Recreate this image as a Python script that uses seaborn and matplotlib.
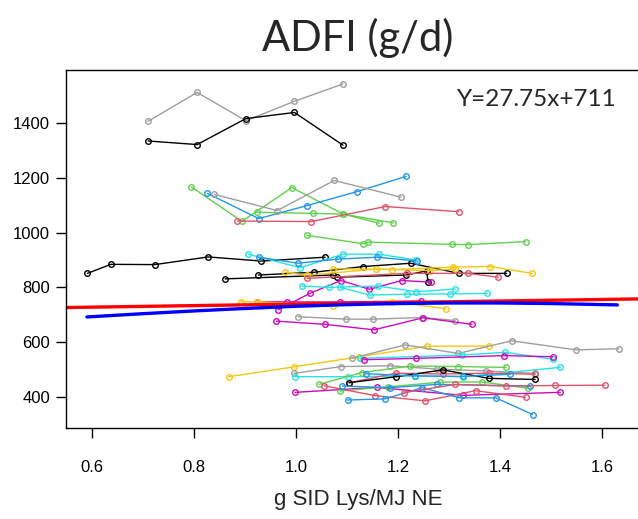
import numpy as np
import pandas as pd
import matplotlib
matplotlib.use('Agg')
from matplotlib import pyplot as plt
import seaborn as sns

# R 4.x default palette
BLACK = '#000000'
RED = '#DF536B'
GREEN = '#61D04F'
BLUE = '#2297E6'
CYAN = '#28E2E5'
MAGENTA = '#CD0BBC'
YELLOW = '#F5C710'
GRAY = '#9E9E9E'

# individual studies (x = g SID Lys/MJ NE, y = ADFI g/d)
gray_a_x = [0.71, 0.806, 0.902, 0.997, 1.092]
gray_a_y = [1406, 1511, 1408, 1479, 1542]
black_a_x = [0.71, 0.806, 0.902, 0.997, 1.092]
black_a_y = [1334, 1321, 1416, 1438, 1319]
green_a_x = [0.795, 0.894, 0.992, 1.093, 1.163]
green_a_y = [1166, 1041, 1164, 1067, 1034]
green_b_x = [0.923, 1.033, 1.093, 1.191]
green_b_y = [1074, 1070, 1067, 1035]
blue_a_x = [0.826, 0.927, 1.021, 1.119, 1.216]
blue_a_y = [1143, 1051, 1098, 1149, 1205]
gray_b_x = [0.840, 0.963, 1.075, 1.206]
gray_b_y = [1139, 1080, 1190, 1129]
red_a_x = [0.885, 1.030, 1.175, 1.319]
red_a_y = [1042, 1040, 1095, 1076]
green_c_x = [1.021, 1.132, 1.142, 1.305, 1.338, 1.450]
green_c_y = [990, 959, 965, 957, 956, 967]

black_b_x = [0.591, 0.637, 0.723, 0.828, 0.932, 1.057]
black_b_y = [851, 884, 883, 911, 896, 910]
black_c_x = [0.861, 1.073, 1.080, 1.216, 1.256, 1.259]
black_c_y = [831, 845, 837, 845, 860, 821]
black_d_x = [0.926, 1.035, 1.132, 1.225, 1.320, 1.413]
black_d_y = [845, 855, 876, 888, 851, 851]
cyan_a_x = [0.906, 1.008, 1.092, 1.163, 1.235]
cyan_a_y = [921, 872, 921, 921, 900]
blue_b_x = [0.927, 1.004, 1.082, 1.159, 1.238]
blue_b_y = [910, 888, 903, 910, 896]
yellow_a_x = [0.978, 1.022, 1.157, 1.263, 1.312]
yellow_a_y = [855, 844, 867, 861, 867]
yellow_b_x = [1.073, 1.188, 1.308, 1.380, 1.463]
yellow_b_y = [868, 865, 874, 876, 851]
red_b_x = [1.022, 1.217, 1.338, 1.397]
red_b_y = [833, 851, 851, 837]
magenta_a_x = [0.965, 1.027, 1.088, 1.144, 1.207, 1.265]
magenta_a_y = [718, 778, 825, 793, 825, 819]
magenta_b_x = [0.924, 0.983, 1.086, 1.245]
magenta_b_y = [748, 747, 747, 750]
yellow_c_x = [0.892, 0.923, 1.073, 1.188, 1.294]
yellow_c_y = [748, 748, 733, 748, 722]
cyan_b_x = [1.011, 1.065, 1.161, 1.236, 1.312]
cyan_b_y = [805, 800, 805, 784, 794]
cyan_c_x = [1.086, 1.145, 1.218, 1.301, 1.375]
cyan_c_y = [800, 772, 775, 776, 778]
gray_c_x = [1.004, 1.099, 1.150, 1.248, 1.312]
gray_c_y = [693, 684, 684, 690, 679]
magenta_c_x = [0.961, 1.057, 1.153, 1.249, 1.345]
magenta_c_y = [677, 665, 645, 689, 665]

yellow_d_x = [0.868, 0.996, 1.124, 1.256, 1.379]
yellow_d_y = [474, 510, 547, 585, 586]
gray_d_x = [1.109, 1.214, 1.318, 1.423, 1.549, 1.633]
gray_d_y = [541, 590, 559, 605, 572, 576]
gray_e_x = [0.996, 1.088, 1.184, 1.276, 1.373, 1.469]
gray_e_y = [486, 511, 514, 502, 495, 486]
cyan_d_x = [0.998, 1.102, 1.233, 1.327, 1.518]
cyan_d_y = [474, 474, 477, 474, 508]
cyan_e_x = [1.125, 1.325, 1.410, 1.503]
cyan_e_y = [541, 553, 563, 538]
magenta_d_x = [0.998, 1.158, 1.328, 1.518]
magenta_d_y = [417, 435, 406, 417]
magenta_e_x = [1.133, 1.236, 1.408, 1.503]
magenta_e_y = [536, 541, 551, 547]
green_d_x = [1.045, 1.129, 1.224, 1.318, 1.412]
green_d_y = [446, 489, 513, 511, 508]
green_e_x = [1.086, 1.180, 1.282, 1.364, 1.455]
green_e_y = [422, 437, 454, 455, 432]
red_c_x = [1.055, 1.155, 1.253, 1.352, 1.450]
red_c_y = [441, 405, 386, 423, 399]
red_d_x = [1.104, 1.196, 1.288, 1.378, 1.469]
red_d_y = [452, 487, 484, 487, 483]
black_e_x = [1.104, 1.196, 1.288, 1.378, 1.469]
black_e_y = [452, 474, 499, 468, 464]
blue_c_x = [1.091, 1.184, 1.276, 1.459]
blue_c_y = [440, 434, 446, 440]
blue_d_x = [1.137, 1.233, 1.328, 1.420]
blue_d_y = [485, 477, 475, 483]
blue_e_x = [1.101, 1.174, 1.248, 1.320, 1.392, 1.464]
blue_e_y = [389, 393, 434, 397, 397, 336]
red_e_x = [1.212, 1.312, 1.411, 1.508, 1.605]
red_e_y = [416, 446, 440, 442, 443]

# fitted lines
linear_fit_x = [0.50, 1.75]
linear_fit_y = [725, 760]
quad_fit_x = [0.59, 0.7, 0.8, 0.9, 1.0, 1.1, 1.2, 1.3, 1.4, 1.5, 1.63]
quad_fit_y = [692, 704, 714, 723, 731, 737, 741, 743, 743, 741, 736]

x_ticks = [0.6, 0.8, 1.0, 1.2, 1.4, 1.6]
y_ticks = [400, 600, 800, 1000, 1200, 1400]

studies = [
    (gray_a_x, gray_a_y, GRAY), (black_a_x, black_a_y, BLACK),
    (green_a_x, green_a_y, GREEN), (green_b_x, green_b_y, GREEN),
    (blue_a_x, blue_a_y, BLUE), (gray_b_x, gray_b_y, GRAY),
    (red_a_x, red_a_y, RED), (green_c_x, green_c_y, GREEN),
    (black_b_x, black_b_y, BLACK), (black_c_x, black_c_y, BLACK),
    (black_d_x, black_d_y, BLACK), (cyan_a_x, cyan_a_y, CYAN),
    (blue_b_x, blue_b_y, BLUE), (yellow_a_x, yellow_a_y, YELLOW),
    (yellow_b_x, yellow_b_y, YELLOW), (red_b_x, red_b_y, RED),
    (magenta_a_x, magenta_a_y, MAGENTA), (magenta_b_x, magenta_b_y, MAGENTA),
    (yellow_c_x, yellow_c_y, YELLOW), (cyan_b_x, cyan_b_y, CYAN),
    (cyan_c_x, cyan_c_y, CYAN), (gray_c_x, gray_c_y, GRAY),
    (magenta_c_x, magenta_c_y, MAGENTA), (yellow_d_x, yellow_d_y, YELLOW),
    (gray_d_x, gray_d_y, GRAY), (gray_e_x, gray_e_y, GRAY),
    (cyan_d_x, cyan_d_y, CYAN), (cyan_e_x, cyan_e_y, CYAN),
    (magenta_d_x, magenta_d_y, MAGENTA), (magenta_e_x, magenta_e_y, MAGENTA),
    (green_d_x, green_d_y, GREEN), (green_e_x, green_e_y, GREEN),
    (red_c_x, red_c_y, RED), (red_d_x, red_d_y, RED),
    (black_e_x, black_e_y, BLACK), (blue_c_x, blue_c_y, BLUE),
    (blue_d_x, blue_d_y, BLUE), (blue_e_x, blue_e_y, BLUE),
    (red_e_x, red_e_y, RED),
]

sns.set_style('ticks')
plt.rcParams['font.family'] = ['Liberation Sans', 'DejaVu Sans']

fig = plt.figure(figsize=(6.38, 5.19), dpi=100)
# right edge of the box runs off the picture like in the original
ax = fig.add_axes([66 / 638, 1 - 427.7 / 519, (660 - 66) / 638, (427.7 - 70) / 519])

for xs, ys, c in studies:
    sns.lineplot(x=xs, y=ys, color=c, marker='o', markersize=4,
                 markerfacecolor='none', markeredgecolor=c, markeredgewidth=1.0,
                 linewidth=1.0, sort=False, estimator=None, ax=ax)

sns.lineplot(x=linear_fit_x, y=linear_fit_y, color='#FF0000', linewidth=2.4,
             sort=False, estimator=None, ax=ax)
sns.lineplot(x=quad_fit_x, y=quad_fit_y, color='#0000FF', linewidth=2.4,
             sort=False, estimator=None, ax=ax)

ax.set_xlim(0.549, 0.6 + (660 - 92) / 510)
ax.set_ylim(288, 1593)
ax.set_xticks(x_ticks)
ax.set_xticklabels([f'{t:.1f}' for t in x_ticks])
ax.set_yticks(y_ticks)
ax.set_yticklabels([str(t) for t in y_ticks])
ax.tick_params(direction='out', length=7.5, width=1, labelsize=12, colors='black')
ax.tick_params(axis='x', pad=16)
ax.tick_params(axis='y', pad=4)
for s in ax.spines.values():
    s.set_color('black')
    s.set_linewidth(1.0)
ax.set_xlabel('')
ax.set_ylabel('')

fig.text(358 / 638, 1 - 38 / 519, 'ADFI (g/d)', ha='center', va='center',
         fontsize=30, family='Lato')
fig.text(537 / 638, 1 - 100 / 519, 'Y=27.75x+711', ha='center', va='center',
         fontsize=17.5, family='Lato')
fig.text(358 / 638, 1 - 499 / 519, 'g SID Lys/MJ NE', ha='center', va='center',
         fontsize=16)

fig.savefig('out.png', dpi=100)
